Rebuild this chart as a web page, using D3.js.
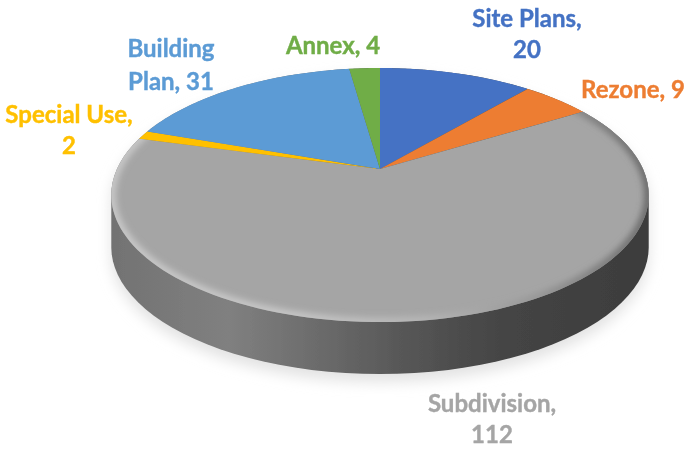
<!DOCTYPE html>
<html><head><meta charset="utf-8">
<script src="https://cdnjs.cloudflare.com/ajax/libs/d3/7.8.5/d3.min.js"></script>
<style>html,body{margin:0;padding:0;background:#fff}svg{display:block}text{font-family:Lato,"Open Sans",sans-serif;font-weight:700}</style>
</head><body><svg id="c" width="686" height="449"></svg>
<script>
const categories = ["Site Plans","Rezone","Subdivision","Special Use","Building Plan","Annex"];
const values = [20,9,112,2,31,4];
const colors = ["#4472c4","#ed7d31","#a5a5a5","#ffc000","#5b9bd5","#70ad47"];
const labelLines = [["Site Plans,","20"],["Rezone, 9"],["Subdivision,","112"],["Special Use,","2"],["Building","Plan, 31"],["Annex, 4"]];
const labelX = [527,633,492,69,171,333];
const labelY = [27,98,412,123,57,54];
const labelGap = [31,0,31,31,33,0];

const svg = d3.select("#c");
const apexX = 380, apexY = 169, halfW = 263, halfH = 121.7, tilt = 0.205, depth = 52;
const sx = d3.scaleLinear().domain([-1,1]).range([apexX-halfW,apexX+halfW]);
const sy = d3.scaleLinear().domain([-1,1]).range([apexY+halfH,apexY-halfH]);
const project = a => { const w = 1+tilt*Math.cos(a); return [sx(Math.sin(a)/w), sy(Math.cos(a)/w)]; };
const sweep = (a0,a1) => d3.range(0,121).map(i => project(a0+(a1-a0)*i/120));
const line = d3.line();

const defs = svg.append("defs");
const blur = (id,s)=>defs.append("filter").attr("id",id).attr("x","-20%").attr("y","-20%").attr("width","140%").attr("height","140%").append("feGaussianBlur").attr("stdDeviation",s);
blur("b8",7); blur("b3",3); blur("b04",0.5); blur("b02",0.35);
const grad = (id,stops)=>{const g=defs.append("linearGradient").attr("id",id).attr("gradientUnits","userSpaceOnUse").attr("x1",sx(-1.03)).attr("x2",sx(1.03)).attr("y1",0).attr("y2",0);
  stops.forEach(s=>g.append("stop").attr("offset",s[0]).attr("stop-color",s[1]));};
grad("side",[[0,"#727272"],[0.22,"#808080"],[0.38,"#6c6c6c"],[0.55,"#565656"],[0.72,"#454545"],[1,"#3c3c3c"]]);
grad("rim",[[0,"#c8c8c8"],[0.35,"#c6c6c6"],[0.58,"#b6b6b6"],[0.78,"#989898"],[1,"#6a6a6a"]]);

const full = sweep(0,2*Math.PI);
const lower = full.map(p=>[p[0],p[1]+depth]);
const hull = d3.polygonHull([...full,...lower]);

svg.append("path").attr("d",line(hull.map(p=>[p[0],p[1]+8]))+"Z").attr("fill","#e2e2e2").attr("filter","url(#b8)");
svg.append("path").attr("d",line(hull)+"Z").attr("fill","url(#side)").attr("filter","url(#b02)");

const arcs = d3.pie().sort(null)(values);
const slicePath = d => line([[apexX,apexY],...sweep(d.startAngle,d.endAngle)])+"Z";
svg.append("g").attr("filter","url(#b02)").selectAll("path").data(arcs).join("path")
  .attr("d",slicePath).attr("fill",(d,i)=>colors[i]);

const main = arcs[categories.indexOf("Subdivision")];
defs.append("clipPath").attr("id","mainClip").append("path").attr("d",slicePath(main));
svg.append("g").attr("clip-path","url(#mainClip)")
  .append("path").attr("d",line(full)+"Z").attr("fill","none")
  .attr("stroke","url(#rim)").attr("stroke-width",9).attr("filter","url(#b3)");

const labels = svg.append("g").attr("filter","url(#b04)").selectAll("text").data(categories).join("text")
  .attr("text-anchor","middle").attr("font-size",24).attr("fill",(d,i)=>colors[i])
  .attr("stroke",(d,i)=>colors[i]).attr("stroke-width",0.4);
labels.selectAll("tspan").data((d,i)=>labelLines[i].map((t,j)=>({t,j,i}))).join("tspan")
  .attr("x",d=>labelX[d.i]).attr("y",d=>labelY[d.i]+d.j*labelGap[d.i]).text(d=>d.t);
</script></body></html>
